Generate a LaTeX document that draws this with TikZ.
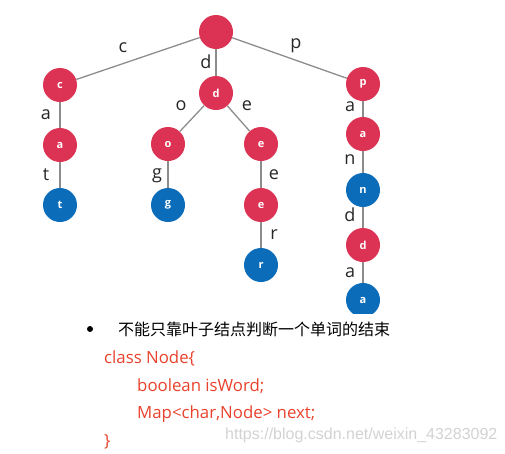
\documentclass[tikz,border=0pt]{standalone}
\usepackage{fontspec}
\setmainfont{Open Sans}
\newfontfamily\codefont{Open Sans}
\newfontfamily\cjk{Noto Sans CJK SC}
\newfontfamily\wmfont{Liberation Sans}
\definecolor{nodered}{HTML}{DC3253}
\definecolor{nodeblue}{HTML}{0B6DBA}
\definecolor{edgegray}{HTML}{8C8C8C}
\definecolor{codered}{HTML}{E8412C}
\definecolor{wmgray}{HTML}{D2D2D2}
\begin{document}
\begin{tikzpicture}[x=1pt,y=-1pt,
  tnode/.style={circle,minimum size=34pt,inner sep=0pt,text=white,font=\fontsize{11}{12}\selectfont\bfseries},
  rnode/.style={tnode,fill=nodered},
  bnode/.style={tnode,fill=nodeblue},
  edge/.style={draw=edgegray,line width=1.3pt},
  elab/.style={font=\fontsize{18}{20}\selectfont,text=black!85,inner sep=0pt},
  code/.style={font=\codefont\fontsize{16.8}{18}\selectfont,text=codered,anchor=west,inner sep=0pt}]
\useasboundingbox (0,0) rectangle (505,453);
\begin{scope}
\clip (0,0) rectangle (505,313);
\node[rnode] (root) at (216,32) {};
\node[rnode] (c) at (60,85) {c};
\node[rnode] (ca) at (60,145) {a};
\node[bnode] (ct) at (60,205) {t};
\node[rnode] (d) at (216,93) {d};
\node[rnode] (o) at (168,144) {o};
\node[bnode] (g) at (168,205) {g};
\node[rnode] (e1) at (261,144) {e};
\node[rnode] (e2) at (261,205) {e};
\node[bnode] (r) at (261,265) {r};
\node[rnode] (p) at (363,84) {p};
\node[rnode] (pa) at (363,134) {a};
\node[bnode] (n) at (363,190) {n};
\node[rnode] (dd) at (363,245) {d};
\node[bnode] (aa) at (363,300) {a};
\draw[edge] (root) -- (c);
\draw[edge] (root) -- (d);
\draw[edge] (root) -- (p);
\draw[edge] (c) -- (ca);
\draw[edge] (ca) -- (ct);
\draw[edge] (d) -- (o);
\draw[edge] (d) -- (e1);
\draw[edge] (o) -- (g);
\draw[edge] (e1) -- (e2);
\draw[edge] (e2) -- (r);
\draw[edge] (p) -- (pa);
\draw[edge] (pa) -- (n);
\draw[edge] (n) -- (dd);
\draw[edge] (dd) -- (aa);
\end{scope}
\node[elab] (lc) at (123,48) {c};
\node[elab] (ld) at (206,62) {d};
\node[elab] (lp) at (296,46) {p};
\node[elab] (la1) at (46,115) {a};
\node[elab] (lt) at (46,175) {t};
\node[elab] (lo) at (181,106) {o};
\node[elab] (le1) at (247,106) {e};
\node[elab] (lg) at (157,176) {g};
\node[elab] (le2) at (274,175) {e};
\node[elab] (lr) at (274,235) {r};
\node[elab] (la2) at (350,107) {a};
\node[elab] (ln) at (350,160) {n};
\node[elab] (ld2) at (350,215) {d};
\node[elab] (la3) at (350,273) {a};
\fill[black] (90,329) circle (3pt);
\node[anchor=west,inner sep=0pt,font=\cjk\fontsize{16}{18}\selectfont] (bul) at (118,329) {不能只靠叶子结点判断一个单词的结束};
\node[code] (l1) at (104,358) {class Node\{};
\node[code] (l2) at (137,386) {boolean isWord;};
\node[code] (l3) at (137,414) {Map<char,Node> next;};
\node[code] (l4) at (104,442) {\}};
\node[anchor=west,inner sep=0pt,text=wmgray,font=\wmfont\fontsize{16}{18}\selectfont] (wm) at (225,435) {https://blog.csdn.net/weixin\_43283092};
\end{tikzpicture}
\end{document}
